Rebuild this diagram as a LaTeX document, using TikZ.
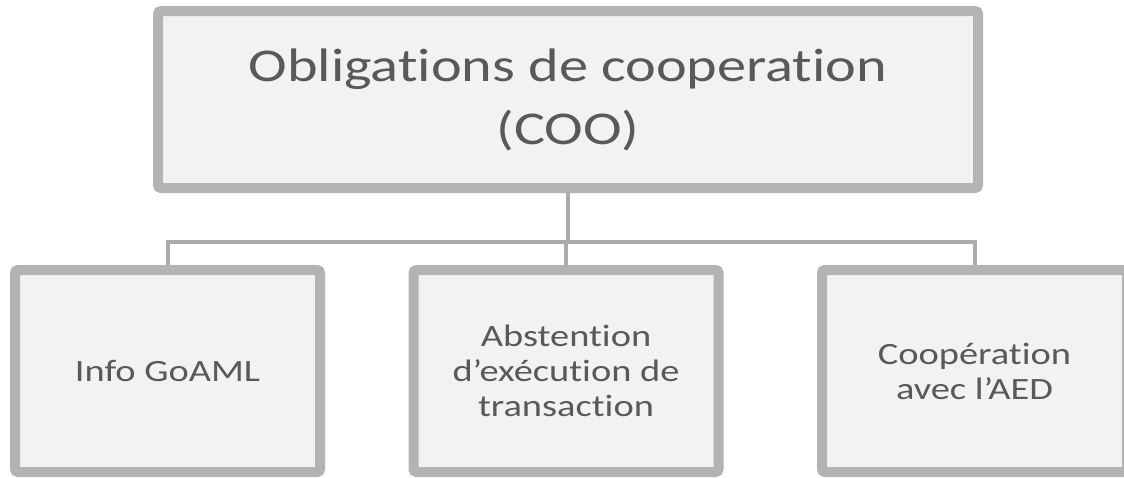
\documentclass[tikz,border=0pt]{standalone}
\usepackage{fontspec}
\setmainfont{Carlito}[FakeStretch=1.24, Ligatures=NoCommon]
\usepackage{xcolor}
\usepackage{tikz}
\definecolor{boxgray}{HTML}{B3B3B3}
\definecolor{boxfill}{HTML}{F2F2F2}
\definecolor{txtgray}{HTML}{595959}
\definecolor{linegray}{HTML}{ABABAB}

\begin{document}
\begin{tikzpicture}
  [x=1pt, y=-1pt,
    box/.style={draw=boxgray, fill=boxfill, line width=10pt,
      rounded corners=3pt, align=center, text=txtgray, inner sep=0pt},
    topbox/.style={box, minimum width=820pt, minimum height=177pt,
      font=\fontsize{47}{63}\selectfont},
    subbox/.style={box, minimum width=305pt, minimum height=202pt,
      font=\fontsize{31}{35}\selectfont},
    ln/.style={draw=linegray, line width=4pt}
  ]
  \useasboundingbox (0,0) rectangle (1124,477);

  \node (top) at (568,99.5) [topbox] {Obligations de cooperation\\(COO)};

  \node (b1) at (167.5,371) [subbox] {Info GoAML};
  \node (b2) at (566,371)   [subbox] {Abstention\\d’exécution de\\transaction};
  \node (b3) at (974.5,371) [subbox] {Coopération\\avec l’AED};

  \coordinate (bus) at (568,242);

  \draw [ln] (top.south) -- (bus);
  \draw [ln] (b1.north) |- (bus) -| (b3.north);
  \draw [ln] (bus) -| (b2.north);
\end{tikzpicture}
\end{document}
